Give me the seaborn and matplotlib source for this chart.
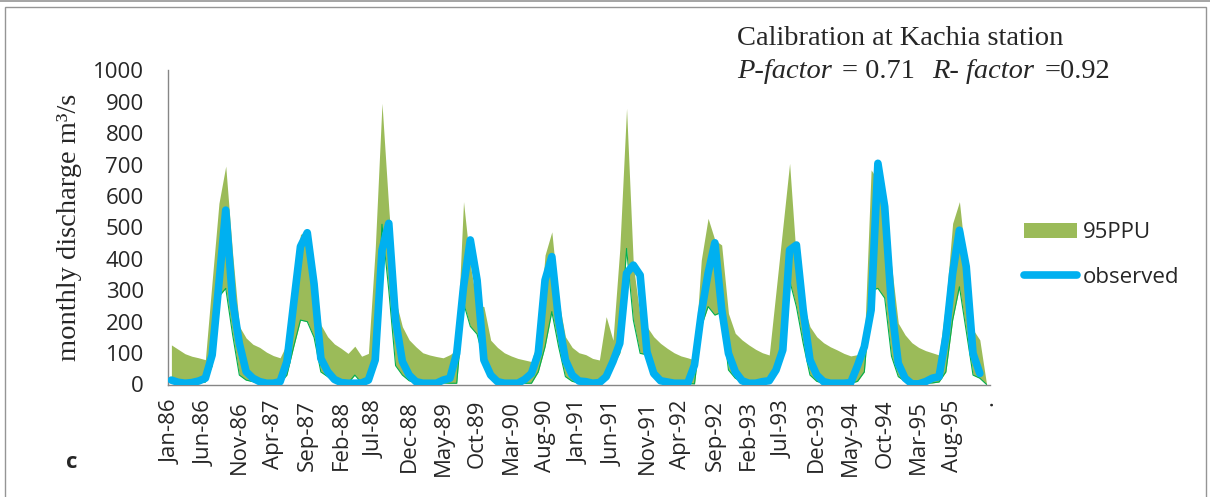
import matplotlib
matplotlib.use("Agg")
import matplotlib.pyplot as plt
import numpy as np
import pandas as pd
import seaborn as sns
from matplotlib.lines import Line2D
from matplotlib.patches import Patch, Rectangle

W, H = 1210, 497

# monthly categories Jan-86 .. Dec-95 plus a trailing blank row labelled "."
MONTHS = list(pd.date_range("1986-01-01", periods=120, freq="MS").strftime("%b-%y")) + ["."]

# 95PPU band (upper / lower), m3/s; last row blank -> 0
UPPER = [126, 112, 98, 90, 85, 79, 330, 577, 695, 420, 185, 148,
         128, 118, 103, 92, 85, 130, 300, 478, 485, 360, 190, 152,
         129, 115, 99, 122, 90, 99, 430, 895, 560, 269, 184, 142,
         120, 101, 94, 89, 85, 95, 110, 582, 380, 253, 248, 141,
         118, 101, 91, 83, 78, 73, 150, 412, 486, 269, 152, 118,
         101, 95, 83, 78, 216, 141, 430, 879, 380, 216, 184, 152,
         131, 115, 101, 91, 85, 78, 396, 529, 460, 444, 226, 163,
         142, 126, 112, 101, 94, 297, 500, 704, 396, 258, 184, 152,
         133, 120, 110, 99, 91, 95, 130, 683, 650, 560, 380, 195,
         158, 133, 118, 108, 101, 94, 260, 513, 582, 380, 175, 142,
         0]
LOWER = [5, 4, 3, 3, 5, 8, 60, 280, 306, 160, 30, 14,
         9, 5, 4, 3, 4, 30, 120, 205, 200, 150, 40, 25,
         10, 5, 4, 30, 5, 8, 60, 510, 300, 60, 30, 12,
         5, 4, 4, 4, 5, 4, 4, 260, 185, 160, 78, 20,
         8, 4, 4, 4, 4, 4, 40, 120, 232, 120, 25, 10,
         5, 4, 4, 4, 30, 60, 100, 433, 205, 99, 95, 30,
         10, 5, 4, 3, 3, 2, 184, 248, 221, 230, 46, 20,
         8, 4, 4, 4, 4, 40, 120, 332, 248, 131, 30, 10,
         4, 4, 4, 4, 4, 10, 40, 300, 306, 275, 90, 25,
         10, 5, 4, 4, 5, 8, 40, 205, 311, 170, 30, 20,
         0]
OBSERVED = [14, 7, 4, 6, 11, 20, 94, 322, 555, 269, 131, 41,
            20, 9, 4, 4, 9, 73, 258, 439, 483, 320, 83, 41,
            16, 6, 4, 4, 5, 14, 78, 428, 513, 205, 73, 30,
            9, 4, 4, 4, 14, 20, 99, 311, 460, 332, 78, 30,
            9, 4, 4, 4, 16, 35, 99, 332, 407, 205, 78, 30,
            11, 9, 4, 6, 25, 73, 131, 354, 380, 348, 104, 35,
            12, 8, 4, 4, 4, 62, 226, 354, 451, 240, 99, 41,
            12, 4, 4, 9, 12, 46, 110, 428, 444, 237, 78, 30,
            9, 4, 4, 4, 6, 60, 120, 237, 704, 566, 250, 67,
            20, 2, 2, 9, 20, 25, 152, 354, 491, 375, 99, 35,
            np.nan]

GREEN = "#9BBB59"
GREEN_LINE = "#00B050"
BLUE = "#00B0F0"
GRAY = "#868686"

sns.set_style("white")
plt.rcParams["font.family"] = ["Open Sans", "DejaVu Sans"]

df = pd.DataFrame({"x": np.arange(len(MONTHS)) + 0.5, "month": MONTHS,
                   "upper": UPPER, "lower": LOWER, "observed": OBSERVED})

fig = plt.figure(figsize=(W / 100, H / 100), dpi=100)
ax = fig.add_axes([168 / W, (H - 384.5) / H, 822 / W, 314.2 / H])

ax.fill_between(df["x"], df["lower"], df["upper"], color=GREEN, lw=0, zorder=1)
sns.lineplot(data=df, x="x", y="lower", color=GREEN_LINE, lw=0.8, ax=ax, zorder=2)
sns.lineplot(data=df, x="x", y="observed", color=BLUE, lw=5.5, ax=ax, zorder=3,
             solid_capstyle="round", solid_joinstyle="round")

ax.set_xlim(0, len(MONTHS))
ax.set_ylim(0, 1000)
ax.set_yticks(range(0, 1001, 100))
ax.tick_params(axis="y", length=6.5, width=1, color=GRAY, pad=11, labelsize=16)

label_idx = list(range(0, len(MONTHS), 5))
ax.set_xticks(df["x"].iloc[label_idx])
ax.set_xticklabels([MONTHS[i] for i in label_idx], rotation=90)
ax.set_xticks(np.arange(0, len(MONTHS) + 1), minor=True)
ax.tick_params(axis="x", which="major", length=0, pad=11, labelsize=16)
ax.tick_params(axis="x", which="minor", length=5, width=1, color=GRAY, direction="out")

for s in ["top", "right"]:
    ax.spines[s].set_visible(False)
for s in ["left", "bottom"]:
    ax.spines[s].set_color(GRAY)
    ax.spines[s].set_linewidth(1)

ax.set_xlabel("")
ax.set_ylabel("monthly discharge m³/s", family="Liberation Serif", fontsize=20.5, labelpad=8)

handles = [Patch(facecolor=GREEN, edgecolor="none"),
           Line2D([], [], color=BLUE, lw=5.5, solid_capstyle="round")]
fig.legend(handles, ["95PPU", "observed"], loc="center left",
           bbox_to_anchor=(1024 / W, 1 - 255 / H), frameon=False, fontsize=16,
           handlelength=2.4, handletextpad=0.25, labelspacing=1.05, borderpad=0,
           borderaxespad=0)

serif = "Liberation Serif"
fig.text(737 / W, 1 - 45 / H, "Calibration at Kachia station", family=serif,
         fontsize=20.5, va="baseline")
for x, txt, style in [(737, "P-factor", "italic"), (842, "= 0.71", "normal"),
                      (932, "R- factor", "italic"), (1045, "=0.92", "normal")]:
    fig.text(x / W, 1 - 78 / H, txt, family=serif, style=style, fontsize=20.5, va="baseline")

fig.text(72 / W, 1 - 462 / H, "c", fontsize=16, fontweight="bold", ha="center", va="center")

# chart frame
fig.add_artist(Line2D([0, 1], [1 - 1 / H] * 2, transform=fig.transFigure, color="#959595", lw=1.2))
fig.add_artist(Rectangle((5 / W, -0.02), 1201 / W, 1 - 7 / H + 0.02, transform=fig.transFigure,
                         fill=False, edgecolor="#959595", lw=1))

fig.savefig("out.png", dpi=100)
